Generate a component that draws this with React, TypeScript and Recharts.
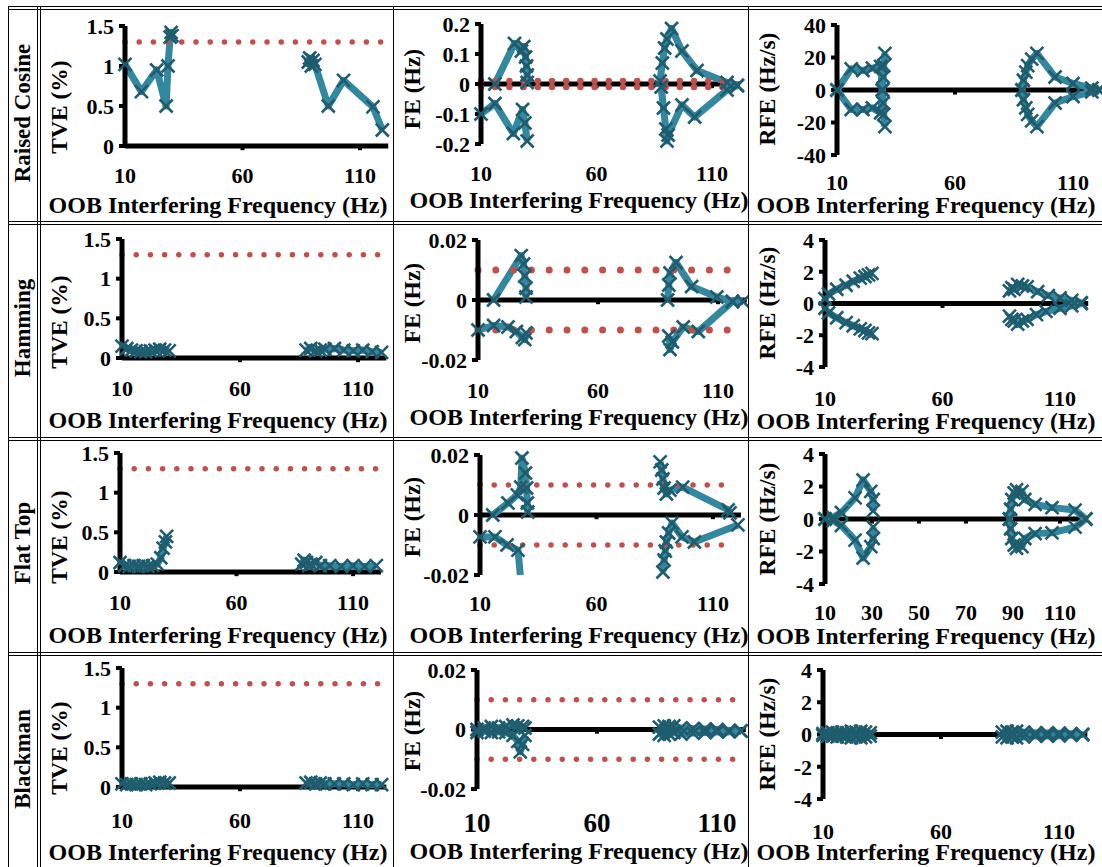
import { LineChart, Line, XAxis, YAxis, ReferenceLine } from 'recharts'

type Pt = [number, number]

// axis ticks / labels
const windows = ['Raised Cosine', 'Hamming', 'Flat Top', 'Blackman']
const freqTicks = [10, 60, 110]
const freqTicksFine = [10, 30, 50, 70, 90, 110]
const tveTicks = [0, 0.5, 1, 1.5]
const feTicksWide = [-0.2, -0.1, 0, 0.1, 0.2]
const feTicks = [-0.02, 0, 0.02]
const rfeTicksWide = [-40, -20, 0, 20, 40]
const rfeTicks = [-4, -2, 0, 2, 4]
const X_MIN = 10
const X_MAX = 122

// limit lines
const tveLimit: Pt[] = [[10, 1.3], [120, 1.3]]
const feLimitHigh: Pt[] = [[10, 0.01], [118, 0.01]]
const feLimitLow: Pt[] = [[10, -0.01], [118, -0.01]]
const zeroLine: Pt[] = [[10, 0], [122, 0]]

// Raised Cosine
const rcTveLow: Pt[] = [[10, 1.02], [17, 0.68], [23.5, 0.95], [27.5, 0.5], [28.3, 1.0], [29.2, 1.36], [29.6, 1.42], [30, 1.38]]
const rcTveHigh: Pt[] = [[88, 1.05], [88.6, 1.1], [89.3, 1.0], [90, 1.07], [90.8, 1.02], [96.5, 0.5], [103, 0.82], [115.5, 0.49], [119.5, 0.2]]
const rcFeLowUp: Pt[] = [[16, 0], [24.5, 0.135], [27.5, 0.11], [28.5, 0.125], [29.3, 0.09], [29.7, 0.06], [30, 0.03], [30, 0.005]]
const rcFeLowDn: Pt[] = [[10, -0.1], [16, -0.065], [24, -0.165], [28, -0.085], [29, -0.13], [30, -0.19]]
const rcFeHighUp: Pt[] = [[87.5, 0.01], [88.5, 0.07], [89.5, 0.12], [90.5, 0.15], [92.5, 0.185], [97, 0.11], [103.5, 0.045], [116.5, 0.005], [121, -0.005]]
const rcFeHighDn: Pt[] = [[88, -0.01], [89, -0.08], [90, -0.15], [90.5, -0.19], [91, -0.17], [97, -0.07], [102.5, -0.11], [116.5, -0.02], [121, -0.005]]
const rcRfeLowUp: Pt[] = [[10, 0], [16, 13], [21, 12], [25, 13.5], [28.5, 14.5], [29.2, 0], [29.6, 8], [29.8, 15], [30.3, 22.5]]
const rcRfeLowDn: Pt[] = [[10, 0], [16, -12], [21, -12], [25, -11], [28.5, -14], [29.2, 0], [29.6, -8], [29.8, -15], [30.3, -22.5]]
const rcRfeHighUp: Pt[] = [[88.4, 0], [89, 6], [90, 11], [90.8, 15], [92.5, 19], [94.7, 22.5], [102.4, 8], [110, 4], [118, 1.2], [121, 0]]
const rcRfeHighDn: Pt[] = [[88.4, 0], [89, -6], [90, -11], [90.8, -15], [92.5, -19], [94.7, -22.5], [102.4, -8], [110, -4], [118, -1.2], [121, 0]]

// Hamming
const hmTveLow: Pt[] = [[10, 0.15], [12, 0.12], [14, 0.1], [16, 0.09], [18, 0.08], [20, 0.08], [22, 0.09], [24, 0.1], [26, 0.11], [28, 0.1], [30, 0.09]]
const hmTveHigh: Pt[] = [[88, 0.1], [90, 0.12], [92, 0.09], [94, 0.1], [96, 0.11], [100, 0.12], [104, 0.1], [108, 0.09], [112, 0.1], [116, 0.08], [120, 0.07]]
const hmFeLowUp: Pt[] = [[16.5, 0], [28, 0.0148], [29, 0.012], [29.5, 0.008], [30, 0.004], [30, 0.001]]
const hmFeLowDn: Pt[] = [[10, -0.01], [16.5, -0.0085], [22.5, -0.009], [26, -0.0105], [28.5, -0.0125], [29.5, -0.0132], [30, -0.011]]
const hmFeHighUp: Pt[] = [[89, 0], [89.5, 0.005], [90, 0.009], [92.5, 0.0125], [99, 0.0045], [109.5, 0.001], [116, -0.0005], [120.5, -0.0005]]
const hmFeHighDn: Pt[] = [[89.5, -0.012], [90, -0.0165], [91, -0.014], [95.5, -0.009], [101.8, -0.0105], [116, -0.0005]]
const hmRfeLowUp: Pt[] = [[10, 0.3], [11.5, 0.6], [15, 0.9], [19, 1.15], [22, 1.4], [25, 1.6], [27, 1.7], [28.5, 1.8], [30, 1.9]]
const hmRfeLowDn: Pt[] = [[10, -0.3], [11.5, -0.6], [15, -0.9], [19, -1.2], [22, -1.4], [25, -1.6], [27, -1.7], [28.5, -1.85], [30, -1.9]]
const hmRfeHighUp: Pt[] = [[88.5, 0.8], [89.5, 1.0], [90.5, 0.9], [92, 1.2], [94, 1.1], [96, 1.05], [100.5, 0.75], [105, 0.5], [110, 0.35], [115, 0.2], [119, 0.05]]
const hmRfeHighDn: Pt[] = [[88.5, -0.8], [89.5, -1.0], [90.5, -1.1], [92, -1.3], [94, -1.1], [96, -1.0], [100, -0.7], [104, -0.5], [110, -0.3], [115, -0.15], [119, 0]]

// Flat Top
const ftTveLow: Pt[] = [[10, 0.12], [12, 0.08], [14, 0.07], [16, 0.08], [18, 0.07], [20, 0.08], [22, 0.07], [24, 0.08], [26, 0.1], [27.5, 0.18], [28.5, 0.3], [29.5, 0.38], [30, 0.45]]
const ftTveHigh: Pt[] = [[88, 0.1], [89, 0.15], [90, 0.12], [91, 0.08], [92, 0.1], [94, 0.12], [96, 0.08], [100, 0.08], [105, 0.07], [110, 0.08], [115, 0.07], [120, 0.08]]
const ftFeLowUp: Pt[] = [[15.5, 0], [22, 0.004], [26, 0.0067], [27.5, 0.0093], [28, 0.019], [29.5, 0.014], [30, 0.009], [30.3, 0.004], [30.5, 0.001]]
const ftFeLowDn: Pt[] = [[10, -0.0073], [16.4, -0.0073], [21.6, -0.01], [26.3, -0.0117], [27.3, -0.02]]
const ftFeHighUp: Pt[] = [[87.3, 0.0177], [88, 0.015], [88.5, 0.012], [89, 0.009], [90, 0.007], [91.5, 0.0083], [97, 0.0093], [116.5, 0.0017], [117.3, 0.0007]]
const ftFeHighDn: Pt[] = [[88.5, -0.019], [89, -0.015], [89.5, -0.012], [90, -0.009], [91, -0.006], [92.4, -0.0027], [96.7, -0.0073], [102, -0.009], [120.7, -0.0033]]
const ftRfeLowUp: Pt[] = [[10, 0], [13.5, 0.1], [17, 0.4], [22.8, 1.3], [26.2, 2.4], [29.5, 1.7], [30.5, 1.2], [30.5, 0.5]]
const ftRfeLowDn: Pt[] = [[10, 0], [13.5, -0.1], [17, -0.4], [22.8, -1.3], [26.2, -2.4], [29.5, -1.7], [30.5, -1.2], [30.5, -0.5]]
const ftRfeHighUp: Pt[] = [[88.5, 0], [89, 0.6], [89.5, 1.2], [90.5, 1.6], [91.5, 1.8], [93.8, 1.7], [95, 1.2], [99.4, 0.9], [106.6, 0.7], [116.4, 0.55], [121, 0]]
const ftRfeHighDn: Pt[] = [[88.5, 0], [89, -0.6], [89.5, -1.2], [90.5, -1.6], [91.5, -1.8], [93.8, -1.7], [95, -1.2], [99.4, -0.9], [106.6, -0.85], [116.4, -0.5], [121, 0]]

// Blackman
const bmTveLow: Pt[] = [[10, 0.04], [12, 0.03], [14, 0.04], [16, 0.03], [18, 0.04], [20, 0.03], [22, 0.04], [24, 0.05], [26, 0.06], [28, 0.05], [30, 0.05]]
const bmTveHigh: Pt[] = [[88, 0.05], [90, 0.06], [92, 0.04], [94, 0.05], [96, 0.04], [100, 0.04], [104, 0.04], [108, 0.03], [112, 0.04], [116, 0.03], [120, 0.03]]
const bmFeLowUp: Pt[] = [[10, 0], [13, 0.0005], [16, 0.001], [19, 0.0005], [22, 0.001], [25, 0.0015], [27, 0.0012], [29, 0.001], [30, 0.0005]]
const bmFeLowDn: Pt[] = [[10, -0.001], [13, -0.0005], [16, -0.001], [19, -0.0008], [22, -0.001], [25, -0.002], [27, -0.004], [28, -0.0075], [29, -0.005], [30, -0.002]]
const bmFeHighUp: Pt[] = [[86, 0.0008], [88, 0.0012], [90, 0.001], [92, 0.0012], [95, 0.0005], [100, 0.0003], [105, 0.0002], [110, 0], [115, -0.0003], [120, -0.0005]]
const bmFeHighDn: Pt[] = [[86, -0.0015], [88, -0.002], [90, -0.0015], [92, -0.001], [95, -0.0015], [100, -0.0012], [105, -0.001], [110, -0.0008], [115, -0.0008], [120, -0.0005]]
const bmRfeLowUp: Pt[] = [[10, 0.05], [12, 0.1], [14, 0.15], [16, 0.1], [18, 0.15], [20, 0.1], [22, 0.2], [24, 0.15], [26, 0.2], [28, 0.15], [30, 0.1]]
const bmRfeLowDn: Pt[] = [[10, -0.05], [12, -0.1], [14, -0.1], [16, -0.15], [18, -0.1], [20, -0.15], [22, -0.2], [24, -0.15], [26, -0.2], [28, -0.15], [30, -0.1]]
const bmRfeHighUp: Pt[] = [[86, 0.15], [88, 0.2], [90, 0.15], [92, 0.2], [95, 0.15], [100, 0.1], [105, 0.1], [110, 0.08], [115, 0.05], [120, 0]]
const bmRfeHighDn: Pt[] = [[86, -0.15], [88, -0.2], [90, -0.15], [92, -0.2], [95, -0.15], [100, -0.1], [105, -0.1], [110, -0.08], [115, -0.05], [120, 0]]

const TEAL = '#33879E'
const MARK = '#1F5C6E'
const RED = '#C0504D'
const FONT = '"Liberation Serif", "Times New Roman", serif'
const X_TITLE = 'OOB Interfering Frequency (Hz)'

const toRows = (pts: Pt[]) => pts.map(([f, v]) => ({ f, v }))

// column boxes of the table
const COLS = [
  { left: 41, right: 393, ylabX: 60, titleX: 218 },
  { left: 394, right: 748, ylabX: 413, titleX: 579 },
  { left: 749, right: 1102, ylabX: 768, titleX: 926 },
]
const ROW_LABEL_Y = [113, 328, 543, 759]

type PanelCfg = {
  col: number
  x0: number
  pp: number
  top: number
  bot: number
  tickY: number
  titleY: number
  ylabY: number
  yTicks: number[]
  yTitle: string
  series: Pt[][]
  limits?: Pt[][]
  dotW?: number
  dotGap?: number
  xTicks?: number[]
  xFont?: number
}

const panels: PanelCfg[] = [
  { col: 0, x0: 125, pp: 2.35, top: 26, bot: 146, tickY: 175, titleY: 205, ylabY: 107, yTicks: tveTicks, yTitle: 'TVE (%)', series: [rcTveLow, rcTveHigh], limits: [tveLimit] },
  { col: 1, x0: 481, pp: 2.31, top: 24, bot: 144, tickY: 173, titleY: 200, ylabY: 89, yTicks: feTicksWide, yTitle: 'FE (Hz)', series: [rcFeLowUp, rcFeLowDn, rcFeHighUp, rcFeHighDn], limits: [feLimitHigh, feLimitLow], dotW: 6.5 },
  { col: 2, x0: 837, pp: 2.36, top: 25, bot: 155, tickY: 182, titleY: 205, ylabY: 89, yTicks: rfeTicksWide, yTitle: 'RFE (Hz/s)', series: [rcRfeLowUp, rcRfeLowDn, rcRfeHighUp, rcRfeHighDn] },

  { col: 0, x0: 122, pp: 2.36, top: 239, bot: 358, tickY: 388, titleY: 420, ylabY: 322, yTicks: tveTicks, yTitle: 'TVE (%)', series: [hmTveLow, hmTveHigh], limits: [tveLimit] },
  { col: 1, x0: 478, pp: 2.4, top: 240, bot: 360, tickY: 390, titleY: 417, ylabY: 303, yTicks: feTicks, yTitle: 'FE (Hz)', series: [hmFeLowUp, hmFeLowDn, hmFeHighUp, hmFeHighDn], limits: [feLimitHigh, feLimitLow], dotW: 7, dotGap: 17.8 },
  { col: 2, x0: 825, pp: 2.35, top: 240, bot: 367, tickY: 398, titleY: 421, ylabY: 303, yTicks: rfeTicks, yTitle: 'RFE (Hz/s)', series: [hmRfeLowUp, hmRfeLowDn, hmRfeHighUp, hmRfeHighDn] },

  { col: 0, x0: 120, pp: 2.33, top: 453, bot: 572, tickY: 602, titleY: 635, ylabY: 537, yTicks: tveTicks, yTitle: 'TVE (%)', series: [ftTveLow, ftTveHigh], limits: [tveLimit] },
  { col: 1, x0: 480, pp: 2.33, top: 455, bot: 575, tickY: 603, titleY: 635, ylabY: 517, yTicks: feTicks, yTitle: 'FE (Hz)', series: [ftFeLowUp, ftFeLowDn, ftFeHighUp, ftFeHighDn], limits: [feLimitHigh, feLimitLow] },
  { col: 2, x0: 825, pp: 2.35, top: 454, bot: 584, tickY: 612, titleY: 636, ylabY: 519, yTicks: rfeTicks, yTitle: 'RFE (Hz/s)', series: [ftRfeLowUp, ftRfeLowDn, ftRfeHighUp, ftRfeHighDn], xTicks: freqTicksFine },

  { col: 0, x0: 122, pp: 2.36, top: 668, bot: 787, tickY: 820, titleY: 852, ylabY: 748, yTicks: tveTicks, yTitle: 'TVE (%)', series: [bmTveLow, bmTveHigh], limits: [tveLimit] },
  { col: 1, x0: 477, pp: 2.4, top: 670, bot: 789, tickY: 823, titleY: 851, ylabY: 731, yTicks: feTicks, yTitle: 'FE (Hz)', series: [bmFeLowUp, bmFeLowDn, bmFeHighUp, bmFeHighDn], limits: [feLimitHigh, feLimitLow], xFont: 27 },
  { col: 2, x0: 823, pp: 2.36, top: 670, bot: 799, tickY: 831, titleY: 852, ylabY: 734, yTicks: rfeTicks, yTitle: 'RFE (Hz/s)', series: [bmRfeLowUp, bmRfeLowDn, bmRfeHighUp, bmRfeHighDn] },
]

function FreqTick(props: any) {
  const { x, y, payload, off, size } = props
  return (
    <text x={x} y={y + off} textAnchor="middle" dominantBaseline="central"
      fontSize={size} fontWeight={700} fontFamily={FONT} fill="#000">
      {payload.value}
    </text>
  )
}

// X-shaped marker; points sitting on the axis limit are drawn as line only
function markRenderer(lo: number, hi: number) {
  return (p: any) => {
    const { cx, cy, value, index } = p
    const key = `m-${index}`
    if (cx == null || cy == null || value <= lo + 1e-9 || value >= hi - 1e-9) return <g key={key} />
    const s = 6.5
    return (
      <path key={key} d={`M${cx - s},${cy - s}L${cx + s},${cy + s}M${cx - s},${cy + s}L${cx + s},${cy - s}`}
        stroke={MARK} strokeWidth={2.6} fill="none" />
    )
  }
}

function Panel({ p }: { p: PanelCfg }) {
  const c = COLS[p.col]
  const W = c.right - c.left
  const x1 = p.x0 + (X_MAX - X_MIN) * p.pp
  const padTop = 14
  const axisH = 50
  const H = p.bot - p.top + padTop + axisH
  const yMin = p.yTicks[0]
  const yMax = p.yTicks[p.yTicks.length - 1]
  const tickLen = (yMax - yMin) * 0.035
  const xt = p.xTicks ?? freqTicks

  return (
    <div style={{ position: 'absolute', left: c.left, top: p.top - padTop, width: W, height: H }}>
      <LineChart width={W} height={H} margin={{ top: padTop, right: W - (x1 - c.left), bottom: 0, left: 0 }}>
        <XAxis type="number" dataKey="f" domain={[X_MIN, X_MAX]} ticks={xt} interval={0}
          axisLine={false} tickLine={false} tickSize={0} tickMargin={0} height={axisH}
          tick={<FreqTick off={p.tickY - p.bot} size={p.xFont ?? 22} />} />
        <YAxis type="number" domain={[yMin, yMax]} ticks={p.yTicks} interval={0} width={p.x0 - c.left}
          axisLine={{ stroke: '#000', strokeWidth: 5 }} tickLine={{ stroke: '#000', strokeWidth: 4 }}
          tickSize={6} tickMargin={5}
          tick={{ fill: '#000', fontSize: 22, fontWeight: 700, fontFamily: FONT }} />
        <Line data={toRows(zeroLine)} dataKey="v" stroke="#000" strokeWidth={5} dot={false}
          activeDot={false} isAnimationActive={false} />
        {xt.slice(1).map((t) => (
          <ReferenceLine key={t} segment={[{ x: t, y: 0 }, { x: t, y: -tickLen }]}
            stroke="#000" strokeWidth={4} ifOverflow="visible" />
        ))}
        {p.series.map((s, i) => (
          <Line key={i} data={toRows(s)} dataKey="v" type="linear" stroke={TEAL} strokeWidth={7}
            strokeLinejoin="round" dot={markRenderer(yMin, yMax)} activeDot={false} isAnimationActive={false} />
        ))}
        {(p.limits ?? []).map((s, i) => (
          <Line key={`lim-${i}`} data={toRows(s)} dataKey="v" type="linear" stroke={RED}
            strokeWidth={p.dotW ?? 5.5} strokeLinecap="round" strokeDasharray={`0 ${p.dotGap ?? 14.2}`}
            dot={false} activeDot={false} isAnimationActive={false} />
        ))}
      </LineChart>
      <div style={{
        position: 'absolute', left: c.ylabX - c.left, top: p.ylabY - (p.top - padTop),
        transform: 'translate(-50%, -50%) rotate(-90deg)', whiteSpace: 'nowrap',
        font: `bold 23.5px ${FONT}`, lineHeight: 1,
      }}>{p.yTitle}</div>
      <div style={{
        position: 'absolute', left: c.titleX - c.left, top: p.titleY - (p.top - padTop),
        transform: 'translate(-50%, -50%)', whiteSpace: 'nowrap',
        font: `bold 24px ${FONT}`, lineHeight: 1,
      }}>{X_TITLE}</div>
    </div>
  )
}

function HLine({ y, x0 = 8, x1 = 1102 }: { y: number; x0?: number; x1?: number }) {
  return <div style={{ position: 'absolute', left: x0, top: y, width: x1 - x0, height: 1, background: '#000' }} />
}
function VLine({ x, y0 = 6, y1 = 867 }: { x: number; y0?: number; y1?: number }) {
  return <div style={{ position: 'absolute', left: x, top: y0, width: 1, height: y1 - y0, background: '#000' }} />
}

export default function App() {
  return (
    <div style={{ position: 'absolute', left: 0, top: 0, width: 1102, height: 867, background: '#fff', overflow: 'hidden' }}>
      {/* table frame */}
      <HLine y={6} />
      <HLine y={9} />
      {[221, 437, 652].map((y) => (
        <div key={y}>
          <HLine y={y} />
          <HLine y={y + 3} />
        </div>
      ))}
      <VLine x={8} />
      <VLine x={37} />
      <VLine x={40} />
      <VLine x={393} />
      <VLine x={748} />

      {windows.map((w, i) => (
        <div key={w} style={{
          position: 'absolute', left: 22, top: ROW_LABEL_Y[i],
          transform: 'translate(-50%, -50%) rotate(-90deg)', whiteSpace: 'nowrap',
          font: `bold 23px ${FONT}`, lineHeight: 1,
        }}>{w}</div>
      ))}

      {panels.map((p, i) => <Panel key={i} p={p} />)}
    </div>
  )
}
